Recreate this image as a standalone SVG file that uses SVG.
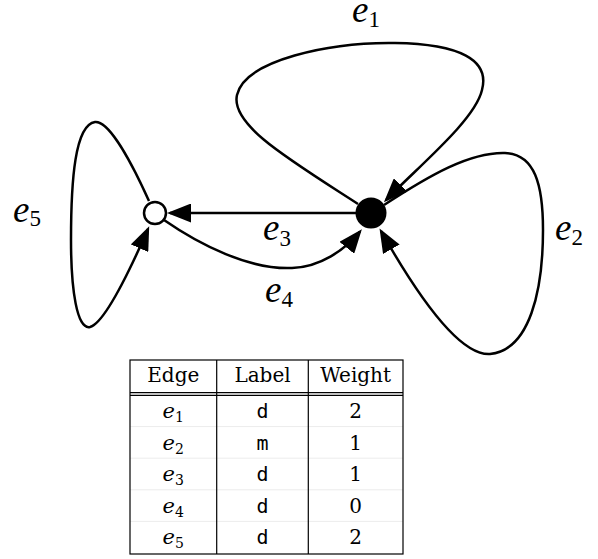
<svg xmlns="http://www.w3.org/2000/svg" width="598" height="559" viewBox="0 0 598 559">
<style>
.edge{fill:none;stroke:#000;stroke-width:2.5;marker-end:url(#arr)}
.lbl{font-family:"Liberation Serif",serif;fill:#000}
.lbl .e{font-style:italic;font-size:37px}
.lbl .s{font-size:23px}
.tb{font-family:"DejaVu Serif",serif;font-size:20px;fill:#000;text-anchor:middle}
.tb .e{font-style:italic;font-size:21px}
.tb .s{font-size:14px}
.mono{font-family:"DejaVu Sans Mono",monospace;font-size:20px;fill:#000;text-anchor:middle}
.rule{stroke:#000;stroke-width:1.2;fill:none}
.faint{stroke:#ececec;stroke-width:1}
</style>
<defs>
<marker id="arr" markerUnits="userSpaceOnUse" markerWidth="24" markerHeight="19" refX="21" refY="9.5" orient="auto">
<path d="M0,0 L24,9.5 L0,19 z" fill="#000"/>
</marker>
</defs>
<g id="connectors">
<path id="e1" class="edge" d="M358,204 C290,160 230,125 237,95 C245,60 330,42 395,43 C460,44 490,60 482,90 C475,120 420,165 386,200"/>
<path id="e2" class="edge" d="M384,205 C430,175 470,152 505,153 C535,154 543,185 543,230 C543,290 530,350 490,354 C460,356 420,300 381,231"/>
<path id="e3" class="edge" d="M356,213 L170,213"/>
<path id="e4" class="edge" d="M164,220 C200,245 250,270 292,268 C320,267 345,250 360,231.5"/>
<path id="e5" class="edge" d="M149,201 C135,170 110,120 95,122 C75,125 71,180 71,240 C71,290 77,330 90,327 C105,323 130,270 148,229"/>
</g>
<g id="node-white"><circle cx="155" cy="213" r="11" fill="#fff" stroke="#000" stroke-width="2.5"/></g>
<g id="node-black"><circle cx="371" cy="213" r="15.5" fill="#000"/></g>
<g id="edge-labels">
<text class="lbl" x="352" y="22"><tspan class="e">e</tspan><tspan class="s" dy="5">1</tspan></text>
<text class="lbl" x="555" y="240"><tspan class="e">e</tspan><tspan class="s" dy="5">2</tspan></text>
<text class="lbl" x="263" y="240"><tspan class="e">e</tspan><tspan class="s" dy="6">3</tspan></text>
<text class="lbl" x="265" y="302"><tspan class="e">e</tspan><tspan class="s" dy="5">4</tspan></text>
<text class="lbl" x="13" y="222"><tspan class="e">e</tspan><tspan class="s" dy="4">5</tspan></text>
</g>
<g id="table">
<line class="faint" x1="130" y1="426.6" x2="403" y2="426.6"/>
<line class="faint" x1="130" y1="458.2" x2="403" y2="458.2"/>
<line class="faint" x1="130" y1="489.8" x2="403" y2="489.8"/>
<line class="faint" x1="130" y1="521.4" x2="403" y2="521.4"/>
<rect class="rule" x="130" y="360" width="273" height="194"/>
<line class="rule" x1="130" y1="392.7" x2="403" y2="392.7"/>
<line class="rule" x1="130" y1="395.3" x2="403" y2="395.3"/>
<line class="rule" x1="216.7" y1="360" x2="216.7" y2="554"/>
<line class="rule" x1="308.3" y1="360" x2="308.3" y2="554"/>
<text class="tb" x="173.3" y="382">Edge</text>
<text class="tb" x="262.5" y="382">Label</text>
<text class="tb" x="355.6" y="382">Weight</text>
<text class="tb" x="173.3" y="418"><tspan class="e">e</tspan><tspan class="s" dy="4">1</tspan></text>
<text class="tb" x="173.3" y="449.6"><tspan class="e">e</tspan><tspan class="s" dy="4">2</tspan></text>
<text class="tb" x="173.3" y="481.2"><tspan class="e">e</tspan><tspan class="s" dy="4">3</tspan></text>
<text class="tb" x="173.3" y="512.8"><tspan class="e">e</tspan><tspan class="s" dy="4">4</tspan></text>
<text class="tb" x="173.3" y="544.4"><tspan class="e">e</tspan><tspan class="s" dy="4">5</tspan></text>
<text class="mono" x="262.5" y="418">d</text>
<text class="mono" x="262.5" y="449.6">m</text>
<text class="mono" x="262.5" y="481.2">d</text>
<text class="mono" x="262.5" y="512.8">d</text>
<text class="mono" x="262.5" y="544.4">d</text>
<text class="tb" x="355.6" y="418">2</text>
<text class="tb" x="355.6" y="449.6">1</text>
<text class="tb" x="355.6" y="481.2">1</text>
<text class="tb" x="355.6" y="512.8">0</text>
<text class="tb" x="355.6" y="544.4">2</text>
</g>
</svg>
